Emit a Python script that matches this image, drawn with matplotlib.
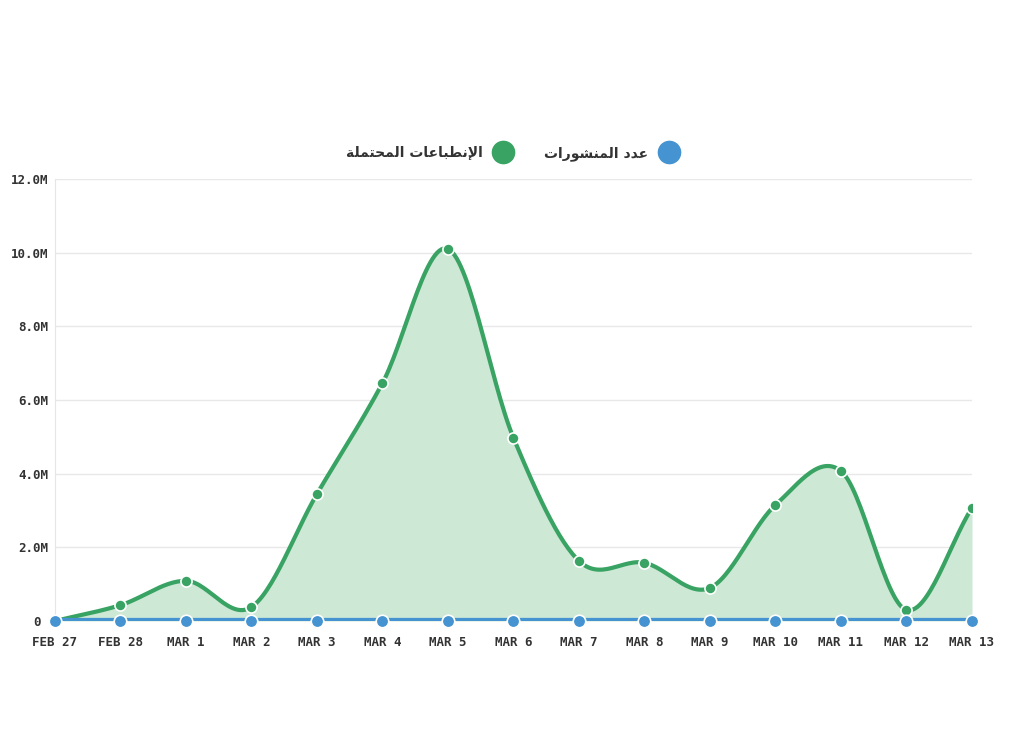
import matplotlib
matplotlib.use("Agg")
import matplotlib.pyplot as plt
from matplotlib.lines import Line2D
import numpy as np

dates = ["FEB 27", "FEB 28", "MAR 1", "MAR 2", "MAR 3", "MAR 4", "MAR 5", "MAR 6",
         "MAR 7", "MAR 8", "MAR 9", "MAR 10", "MAR 11", "MAR 12", "MAR 13"]
# potential impressions (millions)
impressions = [0.0, 0.43, 1.09, 0.38, 3.45, 6.46, 10.1, 4.97,
               1.63, 1.58, 0.90, 3.15, 4.07, 0.30, 3.07]
# number of posts (tiny compared to impressions)
posts = [0.0] * 15

y_ticks = [0, 2, 4, 6, 8, 10, 12]
y_labels = ["0", "2.0M", "4.0M", "6.0M", "8.0M", "10.0M", "12.0M"]

# Arabic labels written in presentation forms (visual order) since matplotlib does no shaping
label_posts = "\uFE95\uFE8D\uFEAD\uFEEE\uFEB8\uFEE8\uFEE4\uFEDF\uFE8D \uFEA9\uFEAA\uFECB"
label_impr = ("\uFE94\uFEE0\uFEE4\uFE98\uFEA4\uFEE4\uFEDF\uFE8D "
              "\uFE95\uFE8E\uFECB\uFE8E\uFE92\uFEC4\uFEE7\uFEF9\uFE8D")

GREEN = "#38a362"
BLUE = "#4593d0"
FILL = "#cde8d5"


def catmull_rom(x, y, n=30):
    """smooth curve through points (drawing only)"""
    x = np.asarray(x, float)
    y = np.asarray(y, float)
    px = np.concatenate([[2 * x[0] - x[1]], x, [2 * x[-1] - x[-2]]])
    py = np.concatenate([[2 * y[0] - y[1]], y, [2 * y[-1] - y[-2]]])
    xs, ys = [], []
    t = np.linspace(0, 1, n, endpoint=False)
    for i in range(1, len(px) - 2):
        for p, out in ((px, xs), (py, ys)):
            p0, p1, p2, p3 = p[i - 1], p[i], p[i + 1], p[i + 2]
            out.extend(0.5 * ((2 * p1) + (-p0 + p2) * t
                              + (2 * p0 - 5 * p1 + 4 * p2 - p3) * t ** 2
                              + (-p0 + 3 * p1 - 3 * p2 + p3) * t ** 3))
    xs.append(x[-1])
    ys.append(y[-1])
    return np.array(xs), np.array(ys)


fig = plt.figure(figsize=(10.24, 7.56), dpi=100)
ax = fig.add_axes([0.0537, 0.1786, 0.8955, 0.5847])

xi = np.arange(len(dates))
sx, sy = catmull_rom(xi, impressions)
sy = np.clip(sy, 0, None)

ax.fill_between(sx, 0, sy, color=FILL, zorder=1, linewidth=0)
ax.plot(sx, sy, color=GREEN, linewidth=3, zorder=3, solid_capstyle="round")
ax.plot(xi, impressions, linestyle="none", marker="o", markersize=8,
        markerfacecolor=GREEN, markeredgecolor="white", markeredgewidth=1.2, zorder=4)

ax.plot(xi, posts, color=BLUE, linewidth=4.5, zorder=5)
ax.plot(xi, posts, linestyle="none", marker="o", markersize=9,
        markerfacecolor=BLUE, markeredgecolor="white", markeredgewidth=1.2, zorder=6,
        clip_on=False)

ax.set_xlim(0, 14)
ax.set_ylim(0, 12)
ax.set_yticks(y_ticks)
ax.set_yticklabels(y_labels)
ax.set_xticks(xi)
ax.set_xticklabels(dates)
ax.grid(axis="y", color="#e8e8e8", linewidth=1)
ax.set_axisbelow(True)
for s in ["top", "right", "bottom"]:
    ax.spines[s].set_visible(False)
ax.spines["left"].set_color("#e6e6e6")
ax.tick_params(length=0, labelsize=9, colors="#333333")
ax.tick_params(axis="x", pad=11)
ax.tick_params(axis="y", pad=5)
for lab in ax.get_xticklabels() + ax.get_yticklabels():
    lab.set_family("DejaVu Sans Mono")
    lab.set_fontweight("bold")
# the zero label sits a bit further left, clear of the first marker
ax.get_yticklabels()[0].set_x(-0.008)

handles = [Line2D([], [], linestyle="none", marker="o", markersize=16, color=GREEN),
           Line2D([], [], linestyle="none", marker="o", markersize=16, color=BLUE)]
leg = fig.legend(handles, [label_impr, label_posts], loc="center", ncol=2,
                 bbox_to_anchor=(0.502, 0.797), frameon=False, markerfirst=False,
                 handletextpad=0.5, columnspacing=1.9,
                 prop={"family": "DejaVu Sans", "weight": "bold", "size": 10})
for t in leg.get_texts():
    t.set_color("#333333")

fig.savefig("out.png", dpi=100, facecolor="white")
